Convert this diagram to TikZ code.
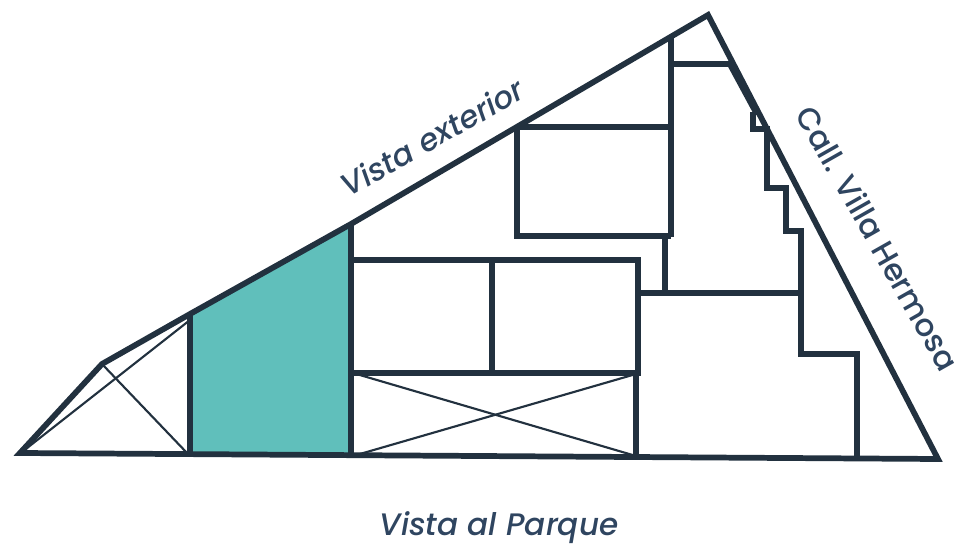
\documentclass[tikz,border=0pt]{standalone}
\usepackage{fontspec}
\setmainfont{Poppins}
\newfontfamily\medfont{Poppins Medium}
\definecolor{ink}{HTML}{22313F}
\definecolor{labelink}{HTML}{2F4560}
\definecolor{teal}{HTML}{60BFBB}
\tikzset{
  wall/.style={draw=ink,line width=4.3pt,line join=miter,line cap=butt},
  inner/.style={draw=ink,line width=4.1pt,line join=miter},
  thin/.style={draw=ink,line width=1.6pt},
  lbl/.style={text=labelink,font=\medfont\fontsize{23.3}{27}\selectfont\itshape,inner sep=0pt},
  lblup/.style={text=labelink,font=\medfont\fontsize{23.3}{27}\selectfont,inner sep=0pt}
}
\begin{document}
\begin{tikzpicture}[x=0.75pt,y=-0.75pt]
\useasboundingbox (0,0) rectangle (958,549);
% teal room
\fill[teal] (190,314) -- (351,224) -- (351,455) -- (190,454) -- cycle;
% thin crossings
\draw[thin] (22,452) -- (190,320);
\draw[thin] (102,364) -- (188,454);
\draw[thin] (353,373) -- (636,456);
\draw[thin] (353,456) -- (636,374);
% interior walls
\draw[inner] (351,224) -- (351,456);
\draw[inner] (190,314) -- (190,454);
\draw[inner] (351,260) -- (638,260) -- (638,373) -- (351,373);
\draw[inner] (492,260) -- (492,373);
\draw[inner] (636,373) -- (636,457);
\draw[inner] (517,127) -- (517,236) -- (671,236);
\draw[inner] (517,127) -- (671,127);
\draw[inner] (671,38) -- (671,237);
\draw[inner] (665,236) -- (665,293);
\draw[inner] (638,293) -- (802,293);
\draw[inner] (671,64) -- (730,64);
\fill[ink] (726,63) -- (753,113) -- (762,118) -- (732,63) -- cycle;
\draw[inner] (753,112) -- (753,129) -- (767,129) -- (767,188) -- (786,188) -- (786,231) -- (801,231) -- (801,354) -- (857,354) -- (857,458);
% outline
\draw[wall,line join=miter] (20,453) -- (102,364) -- (190,314) -- (351,224) -- (708,15) -- (938,459) -- cycle;
% labels
\node[lbl,rotate=29.5] (vistaext) at (432,137) {Vista exterior};
\node[lblup,rotate=-60.5] (villa) at (878,238) {Call. Villa Hermosa};
\node[lbl] (parque) at (499,528) {Vista al Parque};
\end{tikzpicture}
\end{document}
